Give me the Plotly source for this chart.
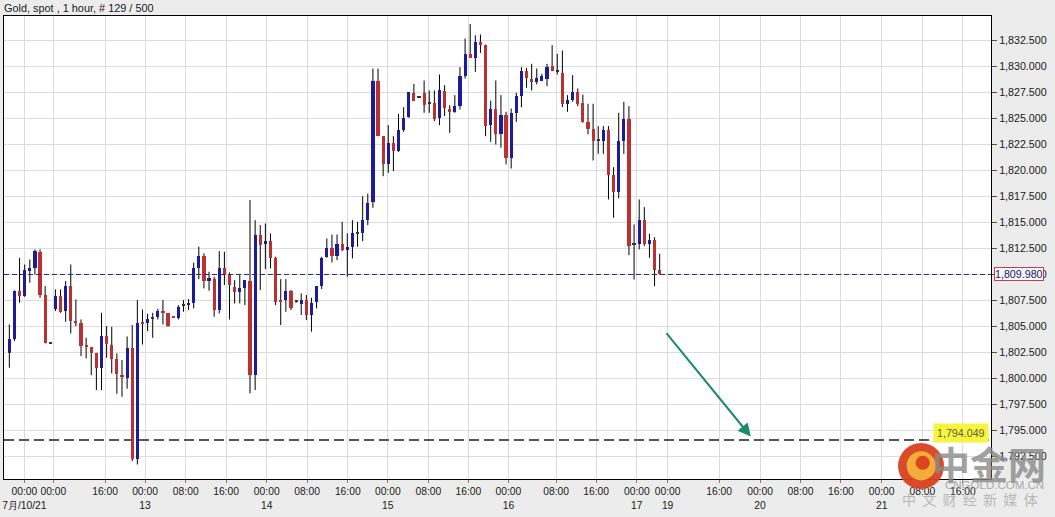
import plotly.graph_objects as go

# ---------------- data (hourly candles, Gold spot) ----------------
opens = [1802.44, 1803.72, 1808.38, 1807.89, 1810.30, 1810.62, 1812.16, 1807.99, 1803.35, 1806.61,
         1807.89, 1806.45, 1808.86, 1805.49, 1805.26, 1803.05, 1802.99, 1802.44, 1800.93, 1804.04,
         1803.18, 1801.86, 1800.29, 1800.03, 1802.86, 1792.24, 1805.33, 1805.33, 1805.75, 1805.87,
         1806.45, 1806.29, 1805.90, 1805.75, 1807.03, 1807.05, 1807.19, 1810.63, 1811.78, 1809.34,
         1809.53, 1806.55, 1810.63, 1809.92, 1808.80, 1808.25, 1808.64, 1809.34, 1800.30, 1813.77,
         1812.90, 1813.19, 1811.52, 1807.51, 1807.51, 1808.38, 1807.35, 1807.10, 1807.51, 1806.07,
         1807.35, 1808.89, 1811.68, 1812.55, 1811.78, 1812.87, 1812.33, 1812.65, 1813.88, 1813.99,
         1815.27, 1816.97, 1828.59, 1823.29, 1820.57, 1822.65, 1821.91, 1823.84, 1825.12, 1827.46,
         1827.05, 1827.46, 1826.40, 1826.50, 1825.06, 1827.62, 1825.95, 1825.63, 1826.18, 1829.07,
         1831.25, 1830.83, 1832.37, 1832.05, 1824.35, 1825.86, 1823.46, 1825.32, 1821.15, 1825.54,
         1827.14, 1829.61, 1828.84, 1828.52, 1828.59, 1828.84, 1830.03, 1829.49, 1829.39, 1826.41,
         1826.82, 1827.56, 1826.50, 1824.67, 1823.94, 1822.87, 1822.87, 1823.84, 1819.54, 1817.94,
         1822.81, 1824.99, 1812.87, 1812.87, 1815.18, 1812.87, 1813.25, 1810.37]
highs = [1805.17, 1808.44, 1811.58, 1810.94, 1811.42, 1812.39, 1812.39, 1808.86, 1803.40, 1808.54,
         1808.54, 1809.34, 1810.94, 1807.57, 1805.65, 1803.88, 1803.00, 1802.44, 1806.29, 1805.01,
         1804.94, 1802.38, 1801.74, 1804.01, 1805.10, 1807.51, 1806.61, 1806.19, 1806.29, 1806.68,
         1807.51, 1806.29, 1805.95, 1807.03, 1807.51, 1807.61, 1811.11, 1812.65, 1812.01, 1810.24,
         1809.76, 1812.23, 1812.17, 1810.18, 1809.44, 1809.92, 1809.44, 1817.14, 1815.21, 1814.73,
         1814.89, 1813.93, 1811.68, 1809.53, 1809.53, 1808.48, 1807.45, 1808.16, 1808.00, 1807.74,
         1808.86, 1811.68, 1813.45, 1813.83, 1813.83, 1815.05, 1813.93, 1815.21, 1815.05, 1817.52,
         1817.77, 1829.80, 1829.80, 1823.29, 1824.35, 1823.29, 1825.44, 1826.08, 1827.53, 1828.33,
         1827.12, 1828.65, 1827.69, 1827.69, 1829.23, 1828.20, 1826.28, 1827.24, 1829.93, 1832.69,
         1834.10, 1833.01, 1833.08, 1832.11, 1826.72, 1828.65, 1827.24, 1825.64, 1825.96, 1827.47,
         1829.94, 1829.87, 1830.26, 1829.81, 1829.29, 1830.26, 1832.05, 1831.22, 1831.54, 1827.24,
         1829.17, 1827.88, 1827.30, 1826.41, 1826.41, 1824.26, 1824.26, 1824.26, 1820.31, 1825.54,
         1826.60, 1826.18, 1814.79, 1817.20, 1816.46, 1813.90, 1813.57, 1811.97]
lows = [1801.00, 1803.56, 1807.25, 1807.83, 1809.18, 1809.98, 1807.73, 1803.34, 1803.30, 1806.45,
        1806.29, 1805.42, 1804.30, 1805.01, 1802.12, 1801.90, 1800.29, 1798.85, 1798.85, 1801.96,
        1800.45, 1798.49, 1798.21, 1798.98, 1792.01, 1791.69, 1803.24, 1804.53, 1803.88, 1805.65,
        1805.17, 1804.94, 1805.85, 1805.65, 1806.39, 1806.55, 1806.71, 1809.53, 1808.64, 1808.41,
        1805.91, 1806.23, 1808.96, 1805.65, 1807.19, 1807.19, 1807.03, 1798.53, 1798.85, 1808.48,
        1810.50, 1810.56, 1807.03, 1805.11, 1806.39, 1806.55, 1807.25, 1806.07, 1805.59, 1804.47,
        1806.71, 1808.57, 1811.59, 1811.14, 1811.36, 1812.23, 1809.76, 1811.52, 1812.65, 1813.19,
        1814.73, 1816.40, 1823.29, 1819.44, 1819.76, 1819.92, 1821.78, 1823.71, 1825.06, 1826.72,
        1826.98, 1825.54, 1825.54, 1824.74, 1824.35, 1825.22, 1823.61, 1825.54, 1825.86, 1828.84,
        1830.83, 1829.48, 1831.31, 1823.29, 1822.75, 1822.49, 1822.17, 1820.57, 1820.18, 1824.67,
        1826.09, 1827.95, 1827.69, 1828.27, 1828.59, 1828.11, 1829.55, 1829.23, 1826.09, 1825.64,
        1826.60, 1826.18, 1824.58, 1823.46, 1820.95, 1821.59, 1821.59, 1817.20, 1815.44, 1817.30,
        1821.59, 1811.84, 1809.50, 1812.39, 1812.71, 1811.59, 1808.86, 1809.98]
closes = [1803.72, 1808.38, 1807.89, 1810.40, 1810.56, 1812.23, 1807.99, 1803.40, 1803.35, 1807.89,
          1806.39, 1808.86, 1805.49, 1805.33, 1803.08, 1803.00, 1802.44, 1800.93, 1804.04, 1803.24,
          1801.86, 1800.42, 1800.13, 1802.86, 1792.24, 1805.33, 1805.23, 1805.71, 1805.75, 1806.51,
          1806.29, 1805.01, 1805.87, 1806.87, 1807.03, 1807.10, 1810.63, 1811.78, 1809.34, 1809.66,
          1806.55, 1810.63, 1809.92, 1808.96, 1808.25, 1808.64, 1809.44, 1800.30, 1813.77, 1812.81,
          1813.19, 1811.59, 1807.35, 1807.29, 1808.38, 1806.71, 1807.35, 1807.51, 1806.07, 1807.19,
          1808.86, 1811.59, 1812.49, 1811.78, 1812.87, 1812.33, 1812.65, 1813.93, 1813.88, 1815.27,
          1816.88, 1828.59, 1823.29, 1820.63, 1822.65, 1821.85, 1823.84, 1825.06, 1827.53, 1826.72,
          1827.05, 1826.34, 1826.40, 1824.99, 1827.69, 1826.02, 1825.63, 1826.18, 1829.07, 1831.25,
          1830.83, 1832.37, 1832.11, 1824.25, 1825.86, 1823.46, 1825.32, 1821.21, 1825.54, 1827.14,
          1829.61, 1828.91, 1828.52, 1828.91, 1829.07, 1829.94, 1829.61, 1829.49, 1826.41, 1826.82,
          1827.56, 1826.41, 1824.67, 1823.94, 1822.81, 1822.87, 1823.84, 1819.54, 1817.94, 1822.81,
          1824.99, 1812.71, 1812.87, 1815.27, 1812.87, 1813.25, 1810.37, 1809.98]

# x-axis tick labels (positions in bar units)
tick_pos = [2.93, 8.59, 18.69, 26.5, 34.45, 42.32, 50.27, 58.14, 66.09, 73.91, 81.84, 89.65,
            97.46, 106.78, 114.6, 122.54, 128.55, 138.6, 146.6, 154.5, 162.4, 170.35, 178.3, 186.2]
tick_time = ["00:00", "00:00", "16:00", "00:00", "08:00", "16:00", "00:00", "08:00", "16:00",
             "00:00", "08:00", "16:00", "00:00", "08:00", "16:00", "00:00", "00:00", "16:00",
             "00:00", "08:00", "16:00", "00:00", "08:00", "16:00"]
tick_date = ["7月/10/21", "", "", "13", "", "", "14", "", "", "15", "", "", "16", "", "",
             "17", "19", "", "20", "", "", "21", "", ""]

y_ticks = [1792.5 + 2.5 * k for k in range(17)]
last_price = 1809.98
target_price = 1794.049
title_text = "Gold, spot , 1 hour, # 129 / 500"

# ---------------- figure ----------------
idx = list(range(len(opens)))
UP, DOWN, FLAT = "#1c1c9a", "#bb3030", "#333333"
body_base = [min(o, c) for o, c in zip(opens, closes)]
body_h = [max(abs(c - o), 0.1) for o, c in zip(opens, closes)]
body_col = [UP if c > o else (DOWN if c < o else FLAT) for o, c in zip(opens, closes)]

# wicks: vertical segments high-low (drawn on the base subplot)
wick_x, wick_y = [], []
for i, h, l in zip(idx, highs, lows):
    wick_x += [i, i, None]
    wick_y += [l, h, None]

fig = go.Figure()
fig.add_trace(go.Scatter(x=wick_x, y=wick_y, mode="lines", line=dict(color="#000000", width=1),
                         hoverinfo="skip", xaxis="x", yaxis="y"))
# bodies on an overlaying axis so they are drawn above the wicks
fig.add_trace(go.Bar(x=idx, y=body_h, base=body_base, width=0.62,
                     marker=dict(color=body_col, line=dict(width=0)), hoverinfo="skip",
                     xaxis="x2", yaxis="y"))

FAM = "Liberation Sans, Arial, sans-serif"
xfont = dict(family=FAM, size=10.3, color="#1a1a1a")
yfont = dict(family=FAM, size=10.7, color="#1a1a1a")
ticktext = [t + ("<br>" + d if d else "") for t, d in zip(tick_time, tick_date)]
x_range = [-1.04, 191.7]

fig.update_layout(
    width=1055, height=517,
    margin=dict(l=4, r=64, t=16, b=38, autoexpand=False),
    paper_bgcolor="#ececec", plot_bgcolor="#ffffff",
    showlegend=False, barmode="overlay", bargap=0,
    font=dict(family=FAM, size=11, color="#1a1a1a"),
    xaxis=dict(range=x_range, tickmode="array", tickvals=tick_pos, ticktext=ticktext,
               tickangle=0, showgrid=True, gridcolor="#dcdcdc", gridwidth=1,
               showline=True, linecolor="#000000", linewidth=1, mirror=True,
               ticks="outside", ticklen=3, tickcolor="#b06868", zeroline=False,
               tickfont=xfont, automargin=False),
    xaxis2=dict(range=x_range, overlaying="x", visible=False, automargin=False),
    yaxis=dict(range=[1790.29, 1834.86], side="right", tickmode="array", tickvals=y_ticks,
               tickformat=",.3f", showgrid=True, gridcolor="#dcdcdc", gridwidth=1,
               showline=True, linecolor="#000000", linewidth=1, mirror=True,
               ticks="outside", ticklen=5, tickcolor="#704040", zeroline=False,
               tickfont=yfont, automargin=False),
)

# reference lines
fig.add_shape(type="line", xref="paper", yref="y", x0=0, x1=1, y0=last_price, y1=last_price,
              line=dict(color="#26267a", width=1, dash="5px,3px"))
fig.add_shape(type="line", xref="paper", yref="y", x0=0, x1=0.999, y0=target_price, y1=target_price,
              line=dict(color="#555555", width=2, dash="10px,5px"))

# title
fig.add_annotation(xref="paper", yref="paper", x=0, y=1, xanchor="left", yanchor="bottom",
                   xshift=-2, yshift=0, text=title_text, showarrow=False,
                   font=dict(family=FAM, size=10.9, color="#1a1a1a"))

# last price box
fig.add_annotation(xref="paper", yref="y", x=1, y=last_price, xanchor="left", yanchor="middle",
                   xshift=3, text="1,809.980", showarrow=False, bgcolor="#f7f7f7",
                   bordercolor="#c04058", borderwidth=1, borderpad=0,
                   font=dict(family=FAM, size=10.7, color="#1a1a60"))

# highlighted target label
fig.add_annotation(xref="paper", yref="y", x=1, y=target_price, xanchor="right", yanchor="bottom",
                   xshift=-2, yshift=-3, text="1,794.049", showarrow=False, bgcolor="#f6f43c",
                   borderpad=3,
                   font=dict(family=FAM, size=10.7, color="#5e5e48"))

# green arrow
fig.add_annotation(x=144.8, y=1794.37, ax=128.07, ay=1804.47, xref="x", yref="y",
                   axref="x", ayref="y", text="", showarrow=True, arrowhead=2, arrowsize=1.3,
                   arrowwidth=2, arrowcolor="#1d8a6c")

# watermark logo
fig.add_shape(type="circle", xref="paper", yref="paper", x0=0.9058, x1=0.9524, y0=-0.0216, y1=0.0778,
              fillcolor="#d9401e", line=dict(width=0), opacity=0.95, layer="above")
fig.add_shape(type="circle", xref="paper", yref="paper", x0=0.9145, x1=0.9440, y0=-0.0030, y1=0.0600,
              fillcolor="#f6b23a", line=dict(width=0), opacity=0.95, layer="above")
fig.add_shape(type="circle", xref="paper", yref="paper", x0=0.9235, x1=0.9380, y0=0.0200, y1=0.0500,
              fillcolor="#d9401e", line=dict(width=0), opacity=0.95, layer="above")
fig.add_annotation(xref="paper", yref="paper", x=0.998, y=0.036, xanchor="center", yanchor="middle",
                   text="<b>中金网</b>", showarrow=False, opacity=0.8,
                   font=dict(family="Noto Sans CJK SC", size=38, color="#8a8a8a"))
fig.add_annotation(xref="paper", yref="paper", x=1.004, y=-0.013, xanchor="center", yanchor="middle",
                   text="CNGOLD.COM.CN", showarrow=False, opacity=0.8,
                   font=dict(family=FAM, size=11.5, color="#9a9a9a"))
fig.add_annotation(xref="paper", yref="paper", x=0.979, y=-0.044, xanchor="center", yanchor="middle",
                   text="中  文  财  经  新  媒  体", showarrow=False, opacity=0.75,
                   font=dict(family="Noto Sans CJK SC", size=14, color="#a8a8a8"))

fig.write_html("out.html", config={"displayModeBar": False},
               post_script="document.body.style.margin='0px';document.body.style.overflow='hidden';")
